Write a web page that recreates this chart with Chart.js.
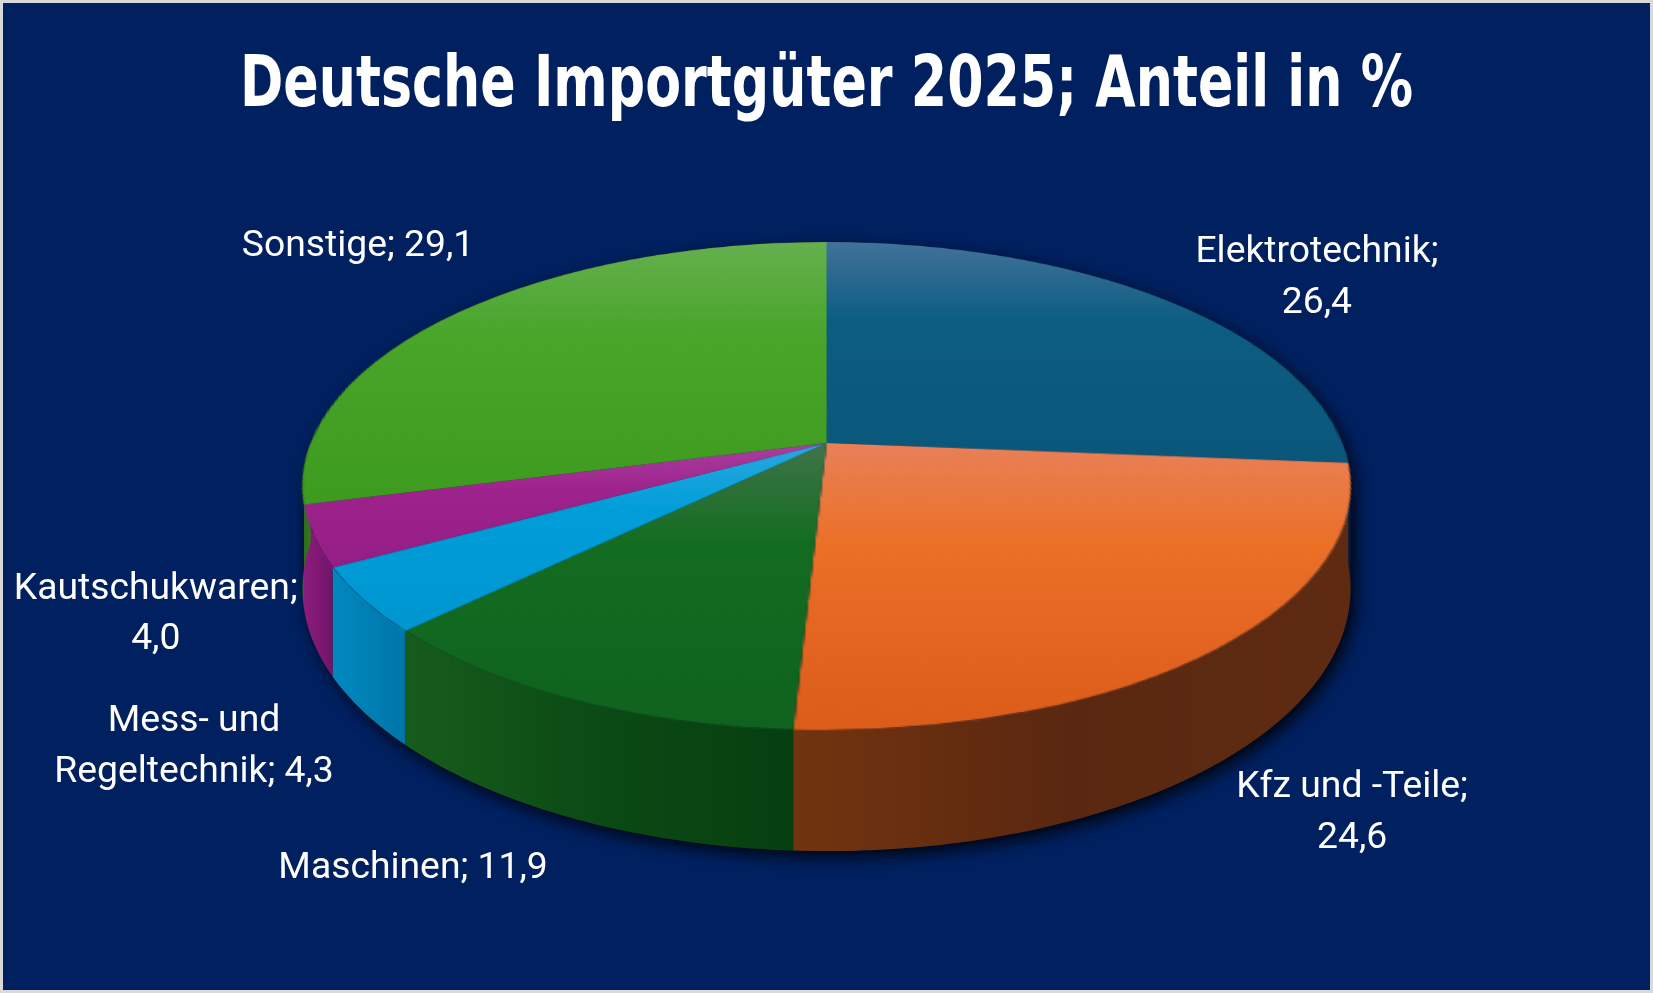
<!DOCTYPE html>
<html><head><meta charset="utf-8">
<script src="https://cdn.jsdelivr.net/npm/chart.js@4.4.1/dist/chart.umd.min.js"></script>
<style>
html,body{margin:0;padding:0;background:#ffffff;}
#wrap{width:1653px;height:993px;box-sizing:border-box;border:3px solid #d9d9d9;background:#002060;}
#inner{width:1647px;height:987px;position:relative;}
canvas{display:block;}
</style></head><body>
<div id="wrap"><div id="inner"><canvas id="c"></canvas></div></div>
<script>
// ---- data ----
const TITLE = 'Deutsche Importgüter 2025; Anteil in %';
const categories = ['Elektrotechnik', 'Kfz und -Teile', 'Maschinen', 'Mess- und Regeltechnik', 'Kautschukwaren', 'Sonstige'];
const shares = [26.4, 24.6, 11.9, 4.3, 4.0, 29.1];

// ---- styles ----
const topLight = ['#42729a', '#e8815a', '#41744a', '#2aa8df', '#ab40a0', '#66b050'];
const topBase  = ['#0d5d82', '#ec7028', '#136d21', '#009ed9', '#9e238c', '#49a62a'];
const topDark  = ['#0a577b', '#dc5c1a', '#10631e', '#0096d0', '#951e86', '#3d9b1f'];
const wallColors = [
  ['#0a4a6a', '#083c58'],
  ['#72340f', '#5a2710', '#5e2b12'],
  ['#175c1c', '#0b4a14', '#073f10'],
  ['#0089bf', '#0075a8'],
  ['#8c1c7e', '#701568'],
  ['#2f7a1c', '#2a6e18']
];
// label anchors relative to the pie (units of horizontal / vertical radius)
const labelAnchor = [[0.936, -0.856], [1.003, 1.345], [-0.789, 1.576], [-1.207, 1.074], [-1.280, 0.530], [-0.894, -0.984]];
// perspective view of the tilted disc, in units of the pie radius
const VIEW = { back: -0.976, front: 0.976, apex: -0.172, halfWidth: 2.096, depth: 0.399, labelRx: 2.096, labelRy: 0.972 };

const TITLE_FONT = '"DejaVu Sans", "DejaVu Sans Condensed", Roboto, sans-serif';
const LABEL_FONT = 'Roboto, "Noto Sans", sans-serif';

const mc = document.createElement('canvas').getContext('2d');
function capRatio(font) {
  mc.font = font.replace('SIZE', '100px');
  return (mc.measureText('H').actualBoundingBoxAscent || 72) / 100;
}
const titleSize = 52 / capRatio('bold SIZE ' + TITLE_FONT);
mc.font = 'bold ' + titleSize + 'px ' + TITLE_FONT;
const titleW = Math.min(mc.measureText(TITLE).width, 1647);
const titleScaleX = 1173 / titleW;

let labelSize = 25.7 / capRatio('normal SIZE ' + LABEL_FONT);
mc.font = 'normal ' + labelSize + 'px ' + LABEL_FONT;
labelSize *= 284 / mc.measureText('Kautschukwaren;').width;

const fmt = v => v.toFixed(1).replace('.', ',');
function wrapText(ctx, text, maxW) {
  const words = text.split(' ');
  const lines = [];
  let cur = '';
  words.forEach(w => {
    const t = cur ? cur + ' ' + w : w;
    if (cur && ctx.measureText(t).width > maxW) { lines.push(cur); cur = w; }
    else cur = t;
  });
  if (cur) lines.push(cur);
  return lines;
}

const titleTop = 84 - 0.6 * titleSize;
const titleBottom = 233 - titleTop - 1.2 * titleSize;

function projection(cx, cy, R) {
  const Yb = cy + VIEW.back * R, Yf = cy + VIEW.front * R, A = cy + VIEW.apex * R;
  const b = (2 * A - Yf - Yb) / (Yf - Yb);
  const B = Yf * (1 + b) - A;
  const rx0 = VIEW.halfWidth * R * Math.sqrt(1 - b * b);
  const d0 = VIEW.depth * R;
  return {
    b, A, B, rx0, d0,
    pt(t) {
      const u = Math.cos(t), v = Math.sin(t), s = 1 + b * v;
      return [cx + rx0 * u / s, (A + B * v) / s, d0 / s];
    },
    vOf(y) { return (y - A) / (B - b * y); },
    yOf(v) { return (A + B * v) / (1 + b * v); }
  };
}

const pie3d = {
  id: 'pie3d',
  beforeDraw(chart) {
    const ctx = chart.ctx;
    ctx.save();
    const tx = chart.width / 2;
    ctx.translate(tx, 0); ctx.scale(titleScaleX, 1); ctx.translate(-tx, 0);
  },
  beforeDatasetsDraw(chart) {
    const ctx = chart.ctx;
    ctx.restore();
    const arcs = chart.getDatasetMeta(0).data;
    const cx = arcs[0].x, cy = arcs[0].y, R = arcs[0].outerRadius;
    const P = projection(cx, cy, R);

    // flat pie drawn by the library's arc elements onto an offscreen disc
    const dpr = chart.currentDevicePixelRatio || 1;
    const m = 4;
    const size = Math.ceil((2 * R + 2 * m) * dpr);
    const off = document.createElement('canvas');
    off.width = size; off.height = size;
    const oc = off.getContext('2d');
    oc.setTransform(dpr, 0, 0, dpr, -(cx - R - m) * dpr, -(cy - R - m) * dpr);
    arcs.forEach((arc, i) => {
      let minY = cy, maxY = cy;
      for (let k = 0; k <= 40; k++) {
        const t = arc.startAngle + (arc.endAngle - arc.startAngle) * k / 40;
        const y = cy + R * Math.sin(t);
        minY = Math.min(minY, y); maxY = Math.max(maxY, y);
      }
      const g = oc.createLinearGradient(0, minY, 0, maxY);
      g.addColorStop(0, topLight[i]);
      g.addColorStop(0.4, topBase[i]);
      g.addColorStop(1, topDark[i]);
      arc.options = Object.assign({}, arc.options, { backgroundColor: g });
      arc.draw(oc);
    });

    // drop shadow silhouette
    const tw = Math.asin(Math.min(1, Math.max(0, -P.b)));
    const N = 120;
    ctx.save();
    ctx.shadowColor = 'rgba(0,0,0,0.85)';
    ctx.shadowBlur = 16; ctx.shadowOffsetX = 5; ctx.shadowOffsetY = 6;
    ctx.fillStyle = '#0a1838';
    ctx.beginPath();
    for (let k = 0; k <= N; k++) {
      const t = Math.PI + (Math.PI + tw) * k / N;
      const p = P.pt(t);
      k ? ctx.lineTo(p[0], p[1]) : ctx.moveTo(p[0], p[1]);
    }
    for (let k = 0; k <= N; k++) {
      const t = tw + (Math.PI - 2 * tw) * k / N;
      const p = P.pt(t);
      ctx.lineTo(p[0], p[1] + p[2]);
    }
    for (let k = 0; k <= 10; k++) {
      const p = P.pt(Math.PI - tw + tw * k / 10);
      ctx.lineTo(p[0], p[1]);
    }
    ctx.closePath();
    ctx.fill();
    ctx.restore();

    // side walls
    arcs.forEach((arc, i) => {
      const a = Math.max(arc.startAngle, 0), e = Math.min(arc.endAngle, Math.PI);
      if (e <= a) return;
      const pa = P.pt(a), pe = P.pt(e);
      const g = ctx.createLinearGradient(pe[0], 0, pa[0], 0);
      const cols = wallColors[i];
      cols.forEach((c, k) => g.addColorStop(k / (cols.length - 1), c));
      const n = Math.max(4, Math.ceil((e - a) * 60));
      ctx.beginPath();
      for (let k = 0; k <= n; k++) {
        const p = P.pt(a + (e - a) * k / n);
        k ? ctx.lineTo(p[0], p[1]) : ctx.moveTo(p[0], p[1]);
      }
      for (let k = n; k >= 0; k--) {
        const p = P.pt(a + (e - a) * k / n);
        ctx.lineTo(p[0], p[1] + p[2]);
      }
      ctx.closePath();
      ctx.fillStyle = g;
      ctx.fill();
    });

    // top face: offscreen disc warped row by row into perspective
    ctx.save();
    ctx.imageSmoothingEnabled = true;
    const step = 1 / dpr;
    const y0 = P.yOf(-1), y1 = P.yOf(1);
    for (let yd = Math.floor(y0); yd < y1 + step; yd += step) {
      const va = Math.max(-1 - m / R, P.vOf(yd)), vb = Math.min(1 + m / R, P.vOf(yd + step));
      if (vb <= va) continue;
      const vm = (va + vb) / 2;
      const s = 1 + P.b * vm;
      const sy = (R + m + va * R) * dpr, sh = Math.max((vb - va) * R * dpr, 0.01);
      const hw = P.rx0 * (R + m) / R / s;
      ctx.drawImage(off, 0, sy, size, sh, cx - hw, yd, 2 * hw, step);
    }
    ctx.restore();
    return false;
  },
  afterDraw(chart) {
    const ctx = chart.ctx;
    const a0 = chart.getDatasetMeta(0).data[0];
    const cx = a0.x, cy = a0.y, R = a0.outerRadius;
    const rx = R * VIEW.labelRx, ry = R * VIEW.labelRy;
    ctx.save();
    ctx.font = 'normal ' + labelSize.toFixed(2) + 'px ' + LABEL_FONT;
    ctx.fillStyle = '#ffffff';
    ctx.textAlign = 'center';
    ctx.textBaseline = 'middle';
    const lh = labelSize * 1.36;
    categories.forEach((cat, i) => {
      const lines = wrapText(ctx, cat + '; ' + fmt(shares[i]), 300);
      const x = cx + labelAnchor[i][0] * rx;
      const y = cy + labelAnchor[i][1] * ry;
      lines.forEach((ln, k) => ctx.fillText(ln, x, y + (k - (lines.length - 1) / 2) * lh));
    });
    ctx.restore();
  }
};

new Chart(document.getElementById('c'), {
  type: 'pie',
  data: {
    labels: categories,
    datasets: [{ data: shares, backgroundColor: topBase, borderWidth: 0, clip: false }]
  },
  options: {
    responsive: true,
    maintainAspectRatio: false,
    animation: false,
    events: [],
    layout: { padding: { top: 0, bottom: 254, left: 0, right: 0 } },
    plugins: {
      legend: { display: false },
      tooltip: { enabled: false },
      title: {
        display: true, text: TITLE, color: '#ffffff',
        font: { family: TITLE_FONT, size: titleSize, weight: 'bold', lineHeight: 1.2 },
        padding: { top: titleTop, bottom: titleBottom }
      }
    }
  },
  plugins: [pie3d]
});
</script>
</body></html>
